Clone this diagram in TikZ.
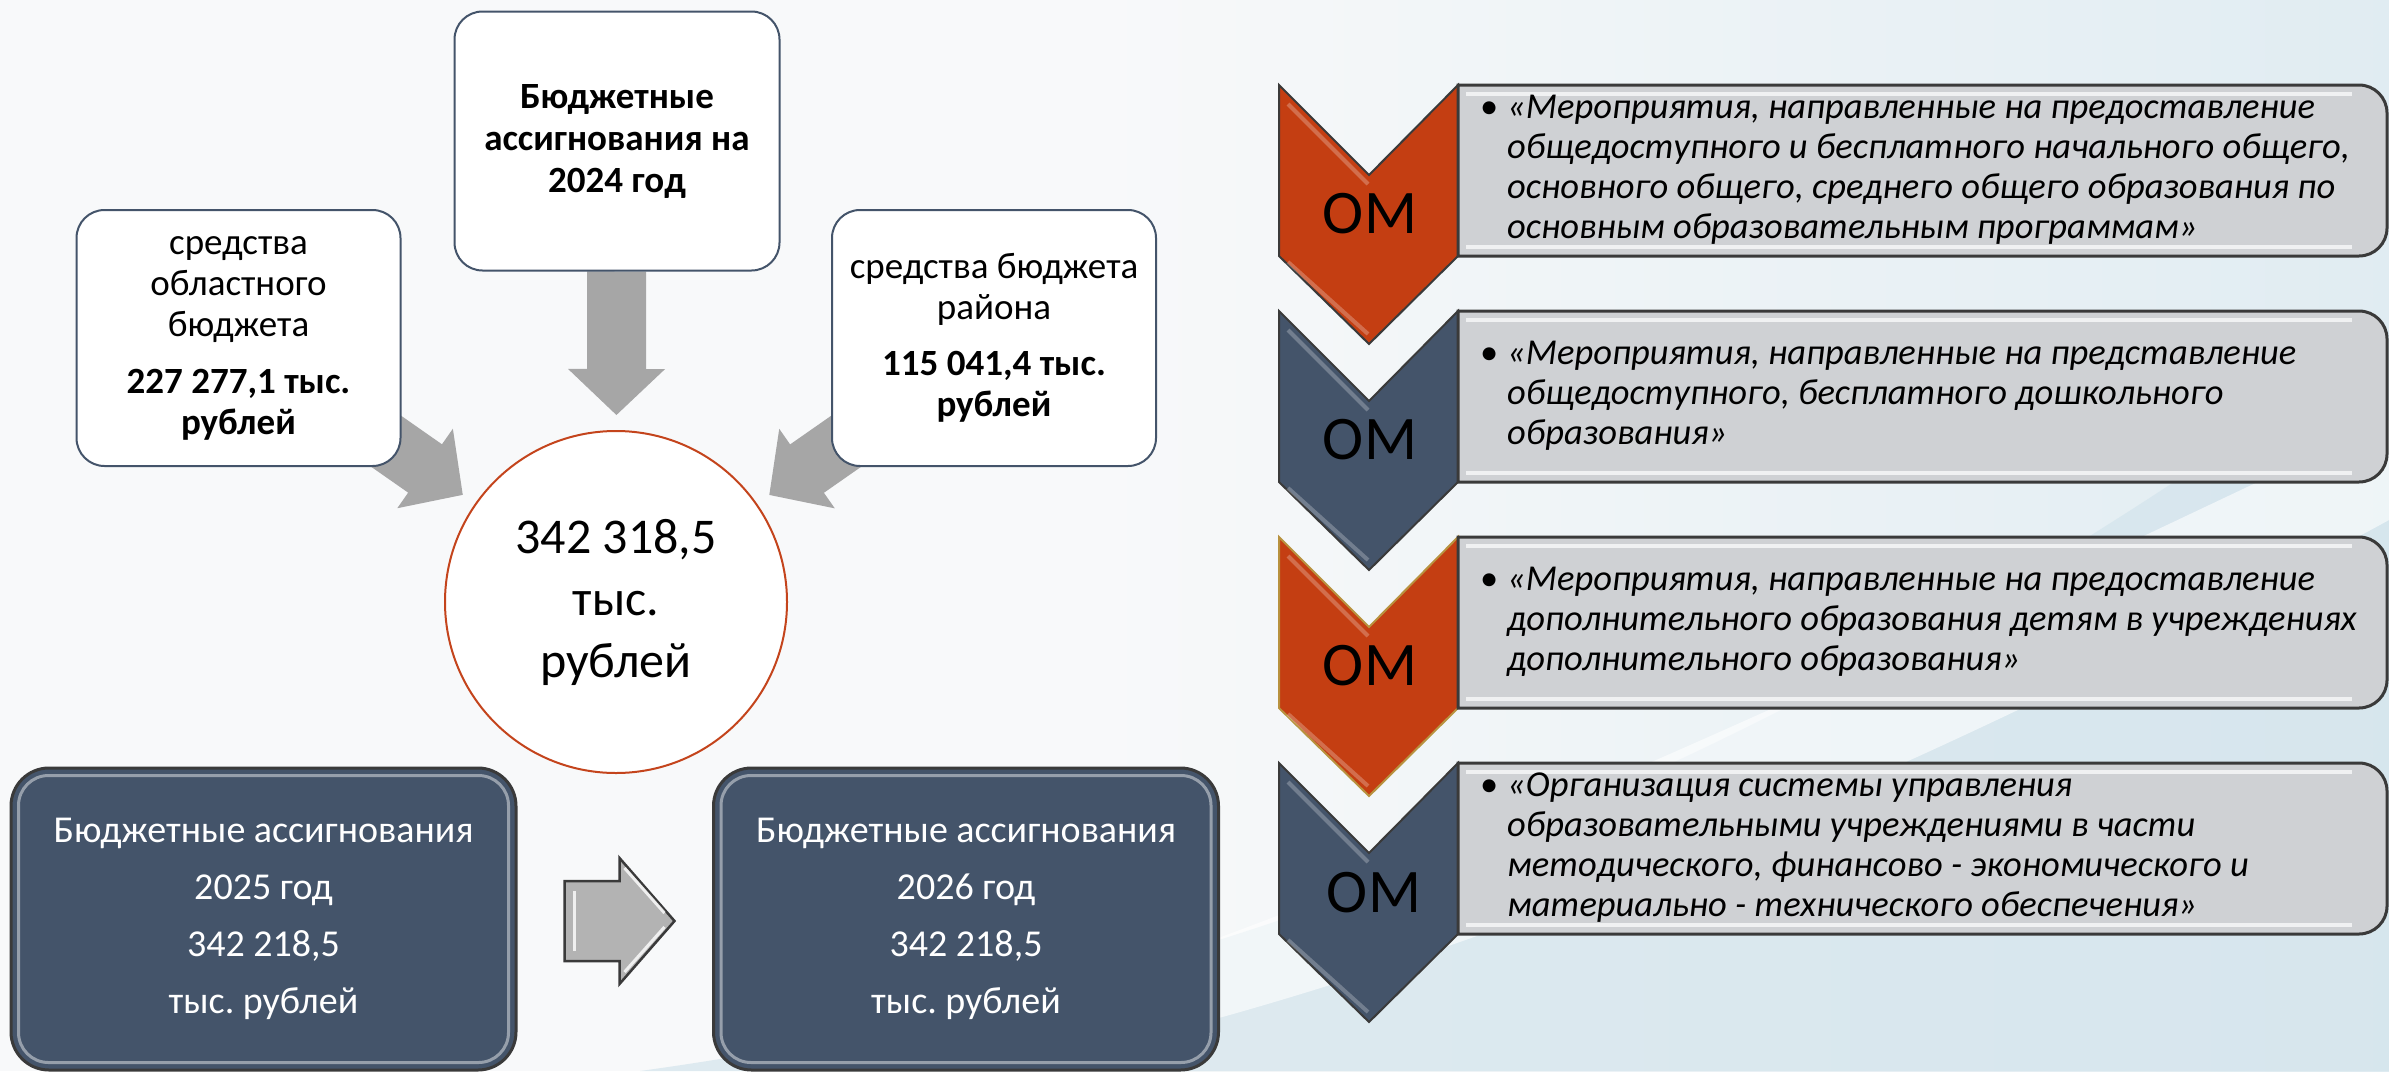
\documentclass[tikz,border=0pt]{standalone}
\usepackage{fontspec}
\setmainfont{Carlito}
\frenchspacing
\usetikzlibrary{calc,backgrounds}

\definecolor{slate}{HTML}{44546A}
\definecolor{rust}{HTML}{C43E12}
\definecolor{gold}{HTML}{B8923F}
\definecolor{arrowgray}{HTML}{A6A6A6}
\definecolor{itemgray}{HTML}{CFD1D4}
\definecolor{ringred}{HTML}{C4441C}
\definecolor{edgedark}{HTML}{3A3A3A}
\definecolor{bgblue}{HTML}{D3E4EC}
\definecolor{pagebg}{HTML}{F8F9FA}

\tikzset{
  sourcebox/.style={draw=slate, line width=2pt, fill=white, rounded corners=28pt,
    align=center, inner sep=0pt, minimum width=324pt, minimum height=256pt,
    font=\fontsize{37}{41}\selectfont},
  sumcircle/.style={circle, draw=ringred, line width=2pt, fill=white, minimum size=342pt,
    inner sep=0pt, align=center, font=\fontsize{50}{62}\selectfont},
  yearbox/.style={draw=edgedark, line width=3pt, fill=slate, rounded corners=38pt, text=white,
    align=center, inner sep=0pt, minimum width=505pt, minimum height=302pt,
    font=\fontsize{38}{57}\selectfont},
  yearbevel/.style={draw=white!55!slate, line width=3pt, rounded corners=30pt, opacity=0.8},
  feedshaft/.style={draw=arrowgray, line width=59pt, shorten >=-2pt},
  feedhead/.style={fill=arrowgray},
  steparrow/.style={draw=edgedark, line width=2.5pt, fill=arrowgray!85!white, line join=miter},
  stepshine/.style={draw=white, line width=3pt, opacity=0.8},
  chevrust/.style={draw=edgedark, line width=2pt, fill=rust},
  chevslate/.style={draw=edgedark, line width=2pt, fill=slate},
  chevshine/.style={draw=white, line width=4pt, opacity=0.25},
  itembox/.style={draw=edgedark, line width=3pt, fill=itemgray},
  itemshine/.style={draw=white, line width=4pt, opacity=0.7},
  itemtext/.style={anchor=west, align=left, inner sep=0pt, font=\fontsize{36.5}{40}\selectfont\itshape},
  omlabel/.style={inner sep=0pt, font=\fontsize{62}{62}\selectfont},
}

\begin{document}
\begin{tikzpicture}[x=1pt,y=-1pt]
\useasboundingbox (0,0) rectangle (2389,1071);

% budget 2024 and its sources
\node[sourcebox, minimum width=325pt, minimum height=259pt, font=\fontsize{37}{42}\selectfont\bfseries] (total) at (617,141) {Бюджетные\\ассигнования на\\2024 год};
\node[sourcebox] (region) at (238.5,338) {средства\\областного\\бюджета\\[16pt]\textbf{227 277,1 тыс.}\\\textbf{рублей}};
\node[sourcebox] (district) at (994,338) {средства бюджета\\района\\[15pt]\textbf{115 041,4 тыс.}\\\textbf{рублей}};
\node[sumcircle] (sum) at (616,602) {342 318,5\\тыс.\\рублей};

% next two years
\node[yearbox] (y25) at (263.5,919) {Бюджетные ассигнования\\2025 год\\342 218,5\\тыс. рублей};
\node[yearbox] (y26) at (966,919) {Бюджетные ассигнования\\2026 год\\342 218,5\\тыс. рублей};
\draw[yearbevel] ($(y25.north west)+(9,9)$) rectangle ($(y25.south east)+(-9,-9)$);
\draw[yearbevel] ($(y26.north west)+(9,9)$) rectangle ($(y26.south east)+(-9,-9)$);
\filldraw[steparrow] ($(y25.east)+(47,-38)$) -- ++(55,0) -- ++(0,-23) -- ++(55,63) -- ++(-55,63) -- ++(0,-23) -- ++(-55,0) -- cycle;
\draw[stepshine] ($(y25.east)+(57,-28)$) -- ++(0,60);
\draw[stepshine] ($(y25.east)+(107,-51)$) -- ++(40,45);
\draw[stepshine] ($(y25.east)+(107,53)$) -- ++(40,-45);

% main activities
\filldraw[chevrust] (1279,85) -- ++(90,90) -- ++(89,-90) -- ++(0,171) -- ++(-89,88) -- ++(-90,-88) -- cycle;
\draw[chevshine] (1288,104) -- (1368,184);
\draw[chevshine] (1288,262) -- (1368,334);
\filldraw[itembox] (1458,85) -- (2359,85) arc[start angle=-90,end angle=0,radius=28] -- (2387,228) arc[start angle=0,end angle=90,radius=28] -- (1458,256) -- cycle;
\draw[itemshine] (1466,94) -- (2352,94);
\draw[itemshine] (1466,247) -- (2352,247);
\node[omlabel] (om1) at (1370,214) {ОМ};
\node[itemtext] (item1) at (1507,170) {\llap{\upshape•\hspace{9pt}}«Мероприятия, направленные на предоставление\\общедоступного и бесплатного начального общего,\\основного общего, среднего общего образования по\\основным образовательным программам»};

\filldraw[chevslate] (1279,311) -- ++(90,90) -- ++(89,-90) -- ++(0,171) -- ++(-89,88) -- ++(-90,-88) -- cycle;
\draw[chevshine] (1288,330) -- (1368,410);
\draw[chevshine] (1288,488) -- (1368,560);
\filldraw[itembox] (1458,311) -- (2359,311) arc[start angle=-90,end angle=0,radius=28] -- (2387,454) arc[start angle=0,end angle=90,radius=28] -- (1458,482) -- cycle;
\draw[itemshine] (1466,320) -- (2352,320);
\draw[itemshine] (1466,473) -- (2352,473);
\node[omlabel] (om2) at (1370,440) {ОМ};
\node[itemtext] (item2) at (1507,396) {\llap{\upshape•\hspace{9pt}}«Мероприятия, направленные на представление\\общедоступного, бесплатного дошкольного\\образования»};

\filldraw[chevrust, draw=gold] (1279,537) -- ++(90,90) -- ++(89,-90) -- ++(0,171) -- ++(-89,88) -- ++(-90,-88) -- cycle;
\draw[chevshine] (1288,556) -- (1368,636);
\draw[chevshine] (1288,714) -- (1368,786);
\filldraw[itembox] (1458,537) -- (2359,537) arc[start angle=-90,end angle=0,radius=28] -- (2387,680) arc[start angle=0,end angle=90,radius=28] -- (1458,708) -- cycle;
\draw[itemshine] (1466,546) -- (2352,546);
\draw[itemshine] (1466,699) -- (2352,699);
\node[omlabel] (om3) at (1370,666) {ОМ};
\node[itemtext] (item3) at (1507,622) {\llap{\upshape•\hspace{9pt}}«Мероприятия, направленные на предоставление\\дополнительного образования детям в учреждениях\\дополнительного образования»};

\filldraw[chevslate] (1279,763) -- ++(90,90) -- ++(89,-90) -- ++(0,171) -- ++(-89,88) -- ++(-90,-88) -- cycle;
\draw[chevshine] (1288,782) -- (1368,862);
\draw[chevshine] (1288,940) -- (1368,1012);
\filldraw[itembox] (1458,763) -- (2359,763) arc[start angle=-90,end angle=0,radius=28] -- (2387,906) arc[start angle=0,end angle=90,radius=28] -- (1458,934) -- cycle;
\draw[itemshine] (1466,772) -- (2352,772);
\draw[itemshine] (1466,925) -- (2352,925);
\node[omlabel] (om4) at (1374,893) {ОМ};
\node[itemtext] (item4) at (1507,848) {\llap{\upshape•\hspace{9pt}}«Организация системы управления\\образовательными учреждениями в части\\методического, финансово - экономического и\\материально - технического обеспечения»};

\begin{scope}[on background layer]
  % page background
  \fill[pagebg] (0,0) rectangle (2389,1071);
  \shade[left color=pagebg, right color=bgblue!70] (1100,0) rectangle (2389,1071);
  \fill[bgblue, opacity=0.7] (640,1071) .. controls (1300,980) and (1900,700) .. (2389,330) -- (2389,1071) -- cycle;
  \fill[white, opacity=0.6] (820,1071) .. controls (1400,900) and (1900,650) .. (2389,420) -- (2389,520) .. controls (1950,760) and (1450,980) .. (1000,1071) -- cycle;
  % feed arrows into the total
  \coordinate (tipT) at ($(sum)!187pt!(total)$);
  \coordinate (tipL) at ($(sum)!187pt!(region)$);
  \coordinate (tipR) at ($(sum)!187pt!(district)$);
  \coordinate (baseT) at ($(tipT)!46pt!(total)$);
  \coordinate (baseL) at ($(tipL)!46pt!(region)$);
  \coordinate (baseR) at ($(tipR)!46pt!(district)$);
  \draw[feedshaft] (total) -- (baseT);
  \draw[feedshaft] (region.center) -- (baseL);
  \draw[feedshaft] (district.center) -- (baseR);
  \fill[feedhead] (tipT) -- ($(baseT)!48.5pt!90:(tipT)$) -- ($(baseT)!48.5pt!-90:(tipT)$) -- cycle;
  \fill[feedhead] (tipL) -- ($(baseL)!48.5pt!90:(tipL)$) -- ($(baseL)!48.5pt!-90:(tipL)$) -- cycle;
  \fill[feedhead] (tipR) -- ($(baseR)!48.5pt!90:(tipR)$) -- ($(baseR)!48.5pt!-90:(tipR)$) -- cycle;
\end{scope}
\end{tikzpicture}
\end{document}
